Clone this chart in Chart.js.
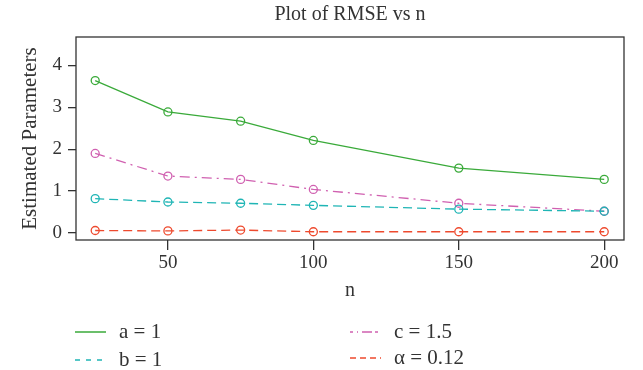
<!DOCTYPE html>
<html>
<head>
<meta charset="utf-8">
<script src="https://cdn.jsdelivr.net/npm/chart.js@4"></script>
<style>
  html, body { margin: 0; padding: 0; background: #fff; }
  #wrap { width: 643px; height: 370px; position: relative; }
</style>
</head>
<body>
<div id="wrap"><canvas id="chart" width="643" height="370"></canvas></div>
<script>
// Datos
const nValues = [25, 50, 75, 100, 150, 200];
const seriesA = [3.64, 2.89, 2.67, 2.21, 1.55, 1.28];
const seriesB = [0.82, 0.74, 0.71, 0.66, 0.57, 0.52];
const seriesC = [1.90, 1.36, 1.28, 1.04, 0.71, 0.52];
const seriesAlpha = [0.06, 0.05, 0.07, 0.03, 0.03, 0.03];
const xTicks = [50, 100, 150, 200];
const yTicks = [0, 1, 2, 3, 4];
const labels = ["a = 1", "b = 1", "c = 1.5", "\u03b1 = 0.12"];

const FONT = "'Liberation Serif', 'DejaVu Serif', serif";
const TEXT = "#333";
const colors = ["#3aaa3a", "#1fb5b5", "#d060b0", "#ee4a2e"];
const dashes = [[], [9, 5], [10, 5, 2, 5], [9, 5]];
const legendDashes = [[], [5, 6], [3, 4, 1, 4, 10, 3], [6, 4]];

function toPoints(vals) {
    return nValues.map((n, i) => ({ x: n, y: vals[i] }));
}

function makeDataset(vals, i) {
    return {
        label: labels[i],
        data: toPoints(vals),
        borderColor: colors[i],
        borderWidth: 1.3,
        borderDash: dashes[i],
        pointStyle: "circle",
        pointRadius: 4,
        pointBorderWidth: 1.3,
        pointBorderColor: colors[i],
        pointBackgroundColor: "rgba(255,255,255,0)",
        tension: 0
    };
}

// Marco, títulos y leyenda dibujados a mano
const decor = {
    id: "decor",
    afterDraw(chart) {
        const ctx = chart.ctx;
        const a = chart.chartArea;
        ctx.save();
        ctx.strokeStyle = "#333";
        ctx.lineWidth = 1.3;
        ctx.strokeRect(a.left, a.top, a.right - a.left, a.bottom - a.top);

        ctx.fillStyle = TEXT;
        ctx.textAlign = "center";
        ctx.textBaseline = "middle";
        ctx.font = "20px " + FONT;
        ctx.fillText("Plot of RMSE vs n", (a.left + a.right) / 2, 15);
        ctx.fillText("n", (a.left + a.right) / 2, 291);

        ctx.save();
        ctx.translate(30, (a.top + a.bottom) / 2);
        ctx.rotate(-Math.PI / 2);
        ctx.font = "21px " + FONT;
        ctx.fillText("Estimated Parameters", 0, 0);
        ctx.restore();

        // Leyenda en dos columnas: a, c / b, α
        const items = [
            { i: 0, x: 75, y: 332 },
            { i: 1, x: 75, y: 360 },
            { i: 2, x: 350, y: 332 },
            { i: 3, x: 350, y: 358 }
        ];
        ctx.font = "21px " + FONT;
        ctx.textAlign = "left";
        items.forEach(it => {
            ctx.beginPath();
            ctx.setLineDash(legendDashes[it.i]);
            ctx.strokeStyle = colors[it.i];
            ctx.lineWidth = 1.5;
            ctx.moveTo(it.x, it.y);
            ctx.lineTo(it.x + 31, it.y);
            ctx.stroke();
            ctx.setLineDash([]);
            ctx.fillStyle = TEXT;
            ctx.fillText(labels[it.i], it.x + 44, it.y);
        });
        ctx.restore();
    }
};

new Chart(document.getElementById("chart"), {
    type: "line",
    data: {
        datasets: [
            makeDataset(seriesA, 0),
            makeDataset(seriesB, 1),
            makeDataset(seriesC, 2),
            makeDataset(seriesAlpha, 3)
        ]
    },
    options: {
        responsive: false,
        animation: false,
        layout: { padding: { top: 37, right: 19, left: 0, bottom: 0 } },
        plugins: {
            legend: { display: false },
            title: { display: false },
            tooltip: { enabled: false }
        },
        scales: {
            x: {
                type: "linear",
                min: 18.4,
                max: 206.8,
                afterFit(scale) { scale.height = 130; },
                afterBuildTicks(scale) { scale.ticks = xTicks.map(v => ({ value: v })); },
                grid: { drawOnChartArea: false, drawTicks: true, tickLength: 10, color: "#333", lineWidth: 1.3 },
                border: { display: false },
                ticks: { color: TEXT, font: { family: FONT, size: 19 }, padding: 2, maxRotation: 0 }
            },
            y: {
                min: -0.167,
                max: 4.68,
                afterFit(scale) { scale.width = 76; },
                afterBuildTicks(scale) { scale.ticks = yTicks.map(v => ({ value: v })); },
                grid: { drawOnChartArea: false, drawTicks: true, tickLength: 8, color: "#333", lineWidth: 1.3 },
                border: { display: false },
                ticks: { color: TEXT, font: { family: FONT, size: 19 }, padding: 6 }
            }
        }
    },
    plugins: [decor]
});
</script>
</body>
</html>
